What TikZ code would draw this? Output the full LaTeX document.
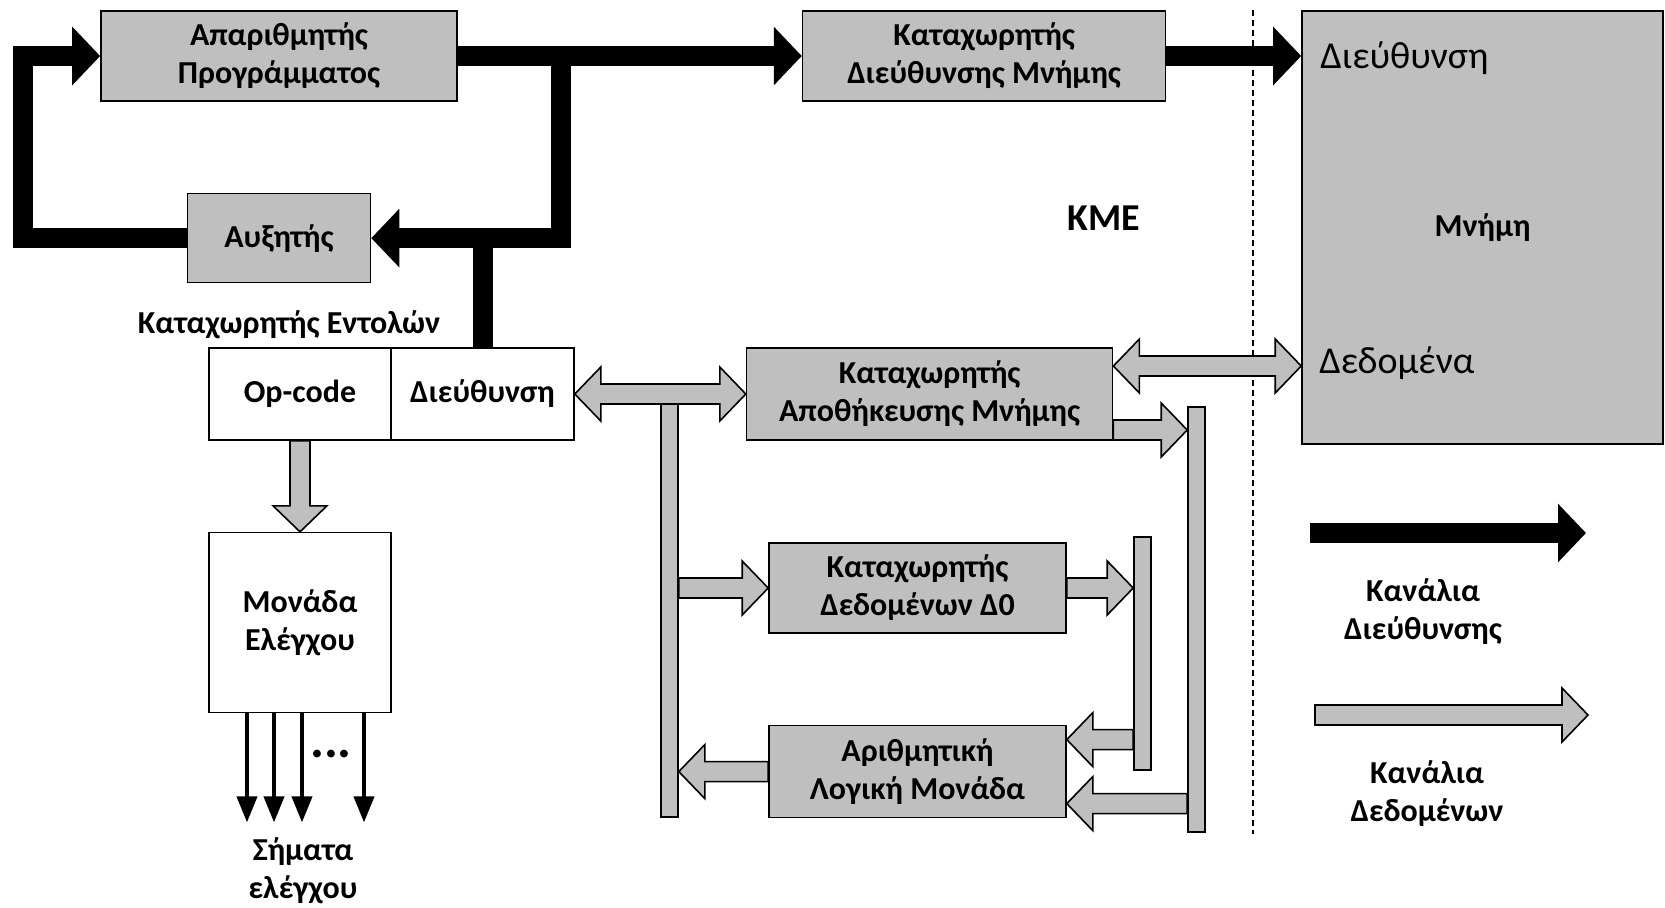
\documentclass[tikz,border=0pt]{standalone}
\usepackage{fontspec}
\setmainfont{Carlito}
\usetikzlibrary{arrows.meta, positioning, calc}

\definecolor{boxgray}{RGB}{191,191,191}

\begin{document}
\begin{tikzpicture}[
  x=0.5pt, y=-0.5pt,
  unit/.style={rectangle, draw=black, line width=0.8pt, fill=boxgray,
    align=center, inner sep=2pt, font=\fontsize{16}{19}\selectfont\bfseries},
  wunit/.style={unit, fill=white},
  bar/.style={rectangle, draw=black, line width=0.8pt, fill=boxgray,
    minimum width=8.5pt, inner sep=0pt},
  lbl/.style={align=center, inner sep=0pt, font=\fontsize{16}{19}\selectfont\bfseries},
  memlbl/.style={anchor=west, inner sep=0pt, font=\fontsize{19}{22}\selectfont},
  addr/.style={line width=10pt, -{Triangle[length=14pt, width=28.5pt]}},
  addrline/.style={line width=10pt},
  sig/.style={line width=2pt, -{Triangle[length=13pt, width=10pt]}},
  data/.style={draw=black, line width=0.8pt, fill=boxgray,
    to path={let \p1=(\tikztostart), \p2=(\tikztotarget),
      \p3=($(\p2)!13pt!(\p1)$) in
      ($(\p1)!5pt!90:(\p2)$) -- ($(\p3)!5pt!90:(\p2)$) -- ($(\p3)!13.5pt!90:(\p2)$)
      -- (\p2) -- ($(\p3)!13.5pt!-90:(\p2)$) -- ($(\p3)!5pt!-90:(\p2)$)
      -- ($(\p1)!5pt!-90:(\p2)$) -- cycle}},
  ddata/.style={draw=black, line width=0.8pt, fill=boxgray,
    to path={let \p1=(\tikztostart), \p2=(\tikztotarget),
      \p3=($(\p2)!13pt!(\p1)$), \p4=($(\p1)!13pt!(\p2)$) in
      (\p1) -- ($(\p4)!13.5pt!90:(\p2)$) -- ($(\p4)!5pt!90:(\p2)$)
      -- ($(\p3)!5pt!90:(\p2)$) -- ($(\p3)!13.5pt!90:(\p2)$) -- (\p2)
      -- ($(\p3)!13.5pt!-90:(\p2)$) -- ($(\p3)!5pt!-90:(\p2)$)
      -- ($(\p4)!5pt!-90:(\p2)$) -- ($(\p4)!13.5pt!-90:(\p2)$) -- cycle}},
]
\useasboundingbox (0,0) rectangle (1665,907);

% Control part
\node[unit, minimum width=178pt, minimum height=45pt] (pc) at (279,56) {Απαριθμητής\\Προγράμματος};
\node[unit, minimum width=181.5pt, minimum height=45pt, right=172pt of pc] (mar) {Καταχωρητής\\Διεύθυνσης Μνήμης};
\node[unit, minimum width=91.5pt, minimum height=44.5pt, below=45.5pt of pc] (inc) {Αυξητής};

\node[wunit, minimum width=91pt, minimum height=46pt] (opc) at (300,394) {Op-code};
\node[wunit, minimum width=91.5pt, minimum height=46pt, right=-0.8pt of opc] (irad) {Διεύθυνση};
\node[lbl] (irlbl) at (289,325) {Καταχωρητής Εντολών};
\node[wunit, minimum width=91pt, minimum height=90pt, below=45.5pt of opc] (ctrl) {Μονάδα\\Ελέγχου};

% Data part
\node[unit, minimum width=183pt, minimum height=46pt, right=85.5pt of irad] (mbr) {Καταχωρητής\\Αποθήκευσης Μνήμης};
\node[unit, minimum width=148.5pt, minimum height=45pt] (d0) at (917.5,588) {Καταχωρητής\\Δεδομένων Δ0};
\node[unit, minimum width=148.5pt, minimum height=46pt, below=45.5pt of d0] (alu) {Αριθμητική\\Λογική Μονάδα};

\node[bar, minimum height=206.5pt] (busL) at (669.5,610.5) {};
\node[bar, minimum height=116.5pt] (busM) at (1142.5,653.5) {};
\node[bar, minimum height=212.5pt] (busR) at (1196.5,619.5) {};

\node[lbl, font=\fontsize{19}{22}\selectfont\bfseries] (kme) at (1104,218) {ΚΜΕ};

% Memory
\node[unit, minimum width=180.5pt, minimum height=216.5pt] (mem) at (1482.5,227.5) {Μνήμη};
\node[memlbl] (memadr) at (1320,58) {Διεύθυνση};
\node[memlbl] (memdat) at (1319,363) {Δεδομένα};

\draw[line width=0.6pt, dash pattern=on 3pt off 2pt] (1253,10) -- (1253,834);

% Address paths
\coordinate[right=51.75pt of pc.east] (jn);
\draw[addr] (inc.west) -- ++(-81.75pt,0) |- (pc.west);
\draw[addr] (pc.east) -- (mar.west);
\draw[addr] (jn) |- (inc.east);
\draw[addrline] (irad.north) -- (irad.north |- inc.east);
\draw[addr] (mar.east) -- (mar.east -| mem.west);

% Data paths
\coordinate (mbrhi) at ([yshift=14pt]mbr.east);
\coordinate (mbrlo) at ([yshift=-18pt]mbr.east);
\coordinate (aluhi) at ([yshift=16pt]alu.east);
\coordinate (alulo) at ([yshift=-16pt]alu.east);
\draw[ddata] (irad.east) to (mbr.west);
\draw[ddata] (mbrhi) to (mbrhi -| mem.west);
\draw[data] (mbrlo) to (mbrlo -| busR.west);
\draw[data] (busL.east |- d0.west) to (d0.west);
\draw[data] (alu.west) to (alu.west -| busL.east);
\draw[data] (d0.east) to (d0.east -| busM.west);
\draw[data] (aluhi -| busM.west) to (aluhi);
\draw[data] (alulo -| busR.west) to (alulo);
\draw[data] (opc.south) to (ctrl.north);

% Control signals
\foreach \dx in {-26.5, -13, 1, 32}
  \draw[sig] ([xshift=\dx pt]ctrl.south) -- ++(0,-54.5pt);
\node[lbl, font=\fontsize{26}{26}\selectfont\bfseries] (dots) at (331,754) {...};
\node[lbl] (sigs) at (303,871) {Σήματα\\ελέγχου};

% Legend
\coordinate (lgadrA) at (1310,533);
\coordinate (lgadrB) at (1586,533);
\draw[addr] (lgadrA) -- (lgadrB);
\node[lbl] (lgadr) at (1423,612) {Κανάλια\\Διεύθυνσης};
\coordinate (lgdatA) at (1315,715);
\coordinate (lgdatB) at (1588,715);
\draw[data] (lgdatA) to (lgdatB);
\node[lbl] (lgdat) at (1427,794) {Κανάλια\\Δεδομένων};

\end{tikzpicture}
\end{document}
